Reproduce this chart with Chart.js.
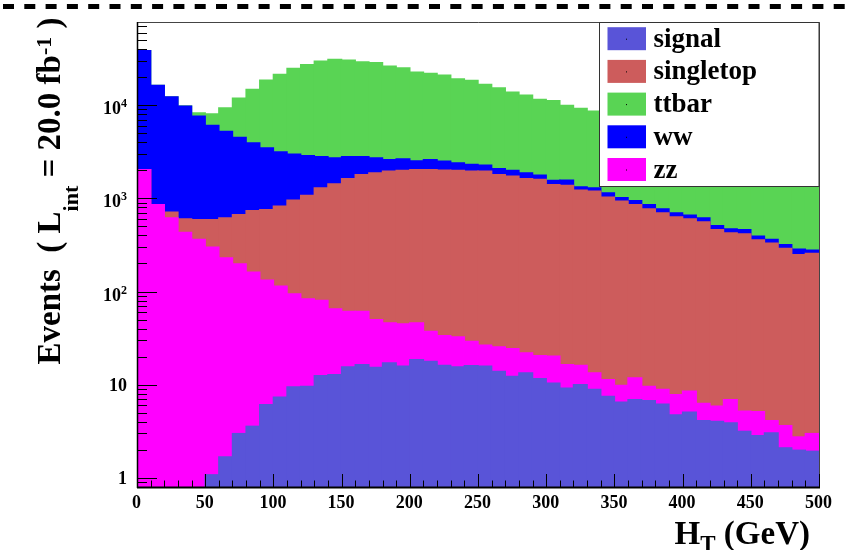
<!DOCTYPE html>
<html>
<head>
<meta charset="utf-8">
<script src="https://cdn.jsdelivr.net/npm/chart.js@4.4.1/dist/chart.umd.min.js"></script>
<style>
  html, body { margin: 0; padding: 0; background: #fff; }
  #wrap { width: 853px; height: 550px; }
</style>
</head>
<body>
<div id="wrap"><canvas id="htChart" width="853" height="550"></canvas></div>
<script>
// ## HT STACK ##
// bin centres of the H_T histogram (GeV), 10 GeV bins from 0 to 500
const htBins = [5, 15, 25, 35, 45, 55, 65, 75, 85, 95,
  105, 115, 125, 135, 145, 155, 165, 175, 185, 195,
  205, 215, 225, 235, 245, 255, 265, 275, 285, 295,
  305, 315, 325, 335, 345, 355, 365, 375, 385, 395,
  405, 415, 425, 435, 445, 455, 465, 475, 485, 495];

// top edge of each stacked layer (signal at the bottom, ttbar on top)
const signalTop = [0, 0, 0, 0, 0, 1.08, 1.68, 2.99, 3.58, 6.11,
  7.33, 9.47, 9.6, 12.5, 12.8, 15.5, 16.4, 15.3, 17.1, 15.8,
  18.6, 17.8, 16.1, 15.5, 16.0, 15.8, 13.9, 12.3, 13.4, 11.6,
  10.4, 9.2, 10.0, 8.9, 7.5, 6.5, 6.9, 6.75, 6.2, 4.74,
  5.06, 4.12, 4.05, 3.89, 3.16, 2.84, 3.04, 2.10, 1.98, 1.93];
const zzTop = [2030, 855, 616, 430, 361, 298, 229, 198, 161, 132,
  114, 94, 83, 80, 65, 61, 61, 49.9, 46, 44.8,
  46, 37.4, 33.6, 32.5, 29.2, 26.5, 25.4, 24.4, 21.9, 20.5,
  20.2, 16.4, 16.1, 13.4, 11.3, 9.8, 11.8, 9.6, 8.9, 7.8,
  8.5, 6.3, 5.9, 6.9, 5.2, 5.15, 4.12, 3.64, 2.75, 2.99];
const singletopTop = [2030, 855, 711, 601, 591, 591, 616, 668, 738, 756,
  821, 955, 1075, 1293, 1428, 1626, 1795, 1870, 1950, 1983,
  2032, 2032, 2000, 1983, 1950, 1950, 1795, 1730, 1626, 1590,
  1403, 1370, 1219, 1190, 1025, 929, 855, 769, 697, 631,
  601, 558, 461, 425, 415, 357, 330, 290, 249, 256];
const wwTop = [38400, 16200, 12250, 9700, 7580, 6030, 5200, 4500, 3930, 3470,
  3150, 2970, 2860, 2790, 2710, 2790, 2790, 2710, 2600, 2650,
  2520, 2600, 2500, 2400, 2300, 2270, 2083, 1983, 1870, 1765,
  1550, 1565, 1325, 1290, 1142, 1017, 944, 855, 769, 697,
  657, 616, 509, 470, 461, 391, 361, 318, 284, 277];
const ttbarTop = [38400, 16200, 12250, 9800, 8250, 8050, 9330, 11830, 14660, 18450,
  21240, 24640, 27170, 29500, 30760, 30270, 29060, 28400, 26080, 25000,
  22500, 21780, 20900, 19110, 18320, 16600, 15300, 13720, 12730, 11460,
  11150, 9880, 9170, 8580, 7900, 7300, 6700, 6200, 5700, 5200,
  4800, 4400, 4000, 3700, 3400, 3100, 2900, 2650, 2450, 2250];

const xTickValues = [0, 50, 100, 150, 200, 250, 300, 350, 400, 450, 500];
const xTickLabels = ["0", "50", "100", "150", "200", "250", "300", "350", "400", "450", "500"];
const yTickValues = [1, 10, 100, 1000, 10000];
const yTickLabels = [["1", ""], ["10", ""], ["10", "2"], ["10", "3"], ["10", "4"]];

const legendNames = ["signal", "singletop", "ttbar", "ww", "zz"];
const colors = {
  signal: "#5954d8",
  singletop: "#cd5c5c",
  ttbar: "#59d454",
  ww: "#0000ff",
  zz: "#ff00ff",
};

const SERIF = '"Liberation Serif", "DejaVu Serif", serif';

function toPoints(values) {
  return values.map((v, i) => ({ x: htBins[i], y: v > 0 ? v : null }));
}

// draws a run of [text, size, baseline shift] pieces starting at x
function drawPieces(ctx, pieces, x, y) {
  let cx = x;
  pieces.forEach(([t, size, dy]) => {
    ctx.font = "bold " + size + "px " + SERIF;
    ctx.fillText(t, cx, y + dy);
    cx += ctx.measureText(t).width;
  });
  return cx;
}

function piecesWidth(ctx, pieces) {
  let w = 0;
  pieces.forEach(([t, size]) => {
    ctx.font = "bold " + size + "px " + SERIF;
    w += ctx.measureText(t).width;
  });
  return w;
}

const rootStyle = {
  id: "rootStyle",
  afterDraw(chart) {
    const ctx = chart.ctx;
    const area = chart.chartArea;
    const x = chart.scales.x;
    const y = chart.scales.y;
    ctx.save();

    // frame
    ctx.strokeStyle = "#444";
    ctx.lineWidth = 1;
    ctx.beginPath();
    ctx.moveTo(area.left, area.top + 0.5);
    ctx.lineTo(area.right + 0.5, area.top + 0.5);
    ctx.lineTo(area.right + 0.5, area.bottom);
    ctx.stroke();

    ctx.strokeStyle = "#000";
    ctx.lineWidth = 1.5;
    ctx.beginPath();
    ctx.moveTo(area.left + 0.5, area.top);
    ctx.lineTo(area.left + 0.5, area.bottom + 1);
    ctx.stroke();
    ctx.lineWidth = 2;
    ctx.beginPath();
    ctx.moveTo(area.left, area.bottom + 0.5);
    ctx.lineTo(area.right + 1, area.bottom + 0.5);
    ctx.stroke();

    // y ticks (major + minor, drawn inside the frame)
    ctx.lineWidth = 1;
    ctx.strokeStyle = "#000";
    for (let d = -1; d <= 4; d++) {
      for (let m = 1; m <= 9; m++) {
        const v = m * Math.pow(10, d);
        if (v < y.min || v > y.max) continue;
        const py = Math.round(y.getPixelForValue(v)) + 0.5;
        const len = m === 1 ? 20 : 10;
        ctx.beginPath();
        ctx.moveTo(area.left, py);
        ctx.lineTo(area.left + len, py);
        ctx.stroke();
      }
    }

    // x ticks
    for (let v = 0; v <= 500; v += 10) {
      const px = Math.round(x.getPixelForValue(v)) + 0.5;
      const len = v % 50 === 0 ? 13 : 6.5;
      ctx.beginPath();
      ctx.moveTo(px, area.bottom);
      ctx.lineTo(px, area.bottom - len);
      ctx.stroke();
    }

    // x tick labels
    ctx.fillStyle = "#000";
    ctx.font = "bold 18px " + SERIF;
    ctx.textAlign = "center";
    ctx.textBaseline = "alphabetic";
    xTickValues.forEach((v, i) => {
      ctx.fillText(xTickLabels[i], x.getPixelForValue(v) - 0.5, 507.5);
    });

    // y tick labels, 10 with a raised exponent
    ctx.textAlign = "left";
    yTickValues.forEach((v, i) => {
      const [base, exp] = yTickLabels[i];
      const py = y.getPixelForValue(v);
      const pieces = exp ? [[base, 18, 0], [exp, 12, -7]] : [[base, 18, 0]];
      const w = piecesWidth(ctx, pieces);
      drawPieces(ctx, pieces, 127 - w, py + (exp ? 9 : 6.5));
    });

    // x title
    const xTitle = [["H", 33, 0], ["T", 23, 7], [" (GeV)", 33, 0]];
    drawPieces(ctx, xTitle, 810 - piecesWidth(ctx, xTitle), 543.5);

    // y title, rotated
    const yTitle = [["Events  ( L", 33, 0], ["int", 22, 18], [" = 20.0 fb", 33, 0],
      ["-1", 22, -9], [" )", 33, 0]];
    ctx.save();
    ctx.translate(60, 191);
    ctx.rotate(-Math.PI / 2);
    drawPieces(ctx, yTitle, -piecesWidth(ctx, yTitle) / 2, 0);
    ctx.restore();

    // legend box
    const lx = 599.5, ly = area.top + 0.5, lw = area.right - 599.5, lh = 164;
    ctx.fillStyle = "#fff";
    ctx.fillRect(lx, ly, lw, lh);
    ctx.strokeStyle = "#333";
    ctx.lineWidth = 1;
    ctx.strokeRect(lx, ly, lw, lh);
    legendNames.forEach((name, i) => {
      const cy = 38.7 + i * 32.7;
      ctx.fillStyle = colors[name];
      ctx.fillRect(607.5, cy - 11.5, 38.5, 23);
      ctx.fillStyle = "#000";
      ctx.fillRect(626, cy, 1, 1);
      ctx.font = "bold 27px " + SERIF;
      ctx.fillText(name, 653.5, cy + 8);
    });

    // dashed separator at the top of the page
    ctx.strokeStyle = "#000";
    ctx.lineWidth = 5;
    ctx.setLineDash([11, 10.3]);
    ctx.beginPath();
    ctx.moveTo(3, 6.5);
    ctx.lineTo(850, 6.5);
    ctx.stroke();
    ctx.restore();
  },
};

const ctx = document.getElementById("htChart").getContext("2d");

window.htChart = new Chart(ctx, {
  type: "bar",
  data: {
    datasets: [
      { label: "signal", data: toPoints(signalTop), backgroundColor: colors.signal },
      { label: "zz", data: toPoints(zzTop), backgroundColor: colors.zz },
      { label: "singletop", data: toPoints(singletopTop), backgroundColor: colors.singletop },
      { label: "ww", data: toPoints(wwTop), backgroundColor: colors.ww },
      { label: "ttbar", data: toPoints(ttbarTop), backgroundColor: colors.ttbar },
    ],
  },
  options: {
    responsive: false,
    animation: false,
    events: [],
    layout: { padding: { left: 137, right: 34, top: 22, bottom: 63 } },
    datasets: {
      bar: {
        grouped: false,
        barPercentage: 1,
        categoryPercentage: 1,
        borderWidth: 0,
        inflateAmount: 0.7,
      },
    },
    scales: {
      x: { type: "linear", min: 0, max: 500, offset: false, display: false },
      y: { type: "logarithmic", min: 0.8, max: 77800, display: false },
    },
    plugins: {
      legend: { display: false },
      tooltip: { enabled: false },
    },
  },
  plugins: [rootStyle],
});
</script>
</body>
</html>
